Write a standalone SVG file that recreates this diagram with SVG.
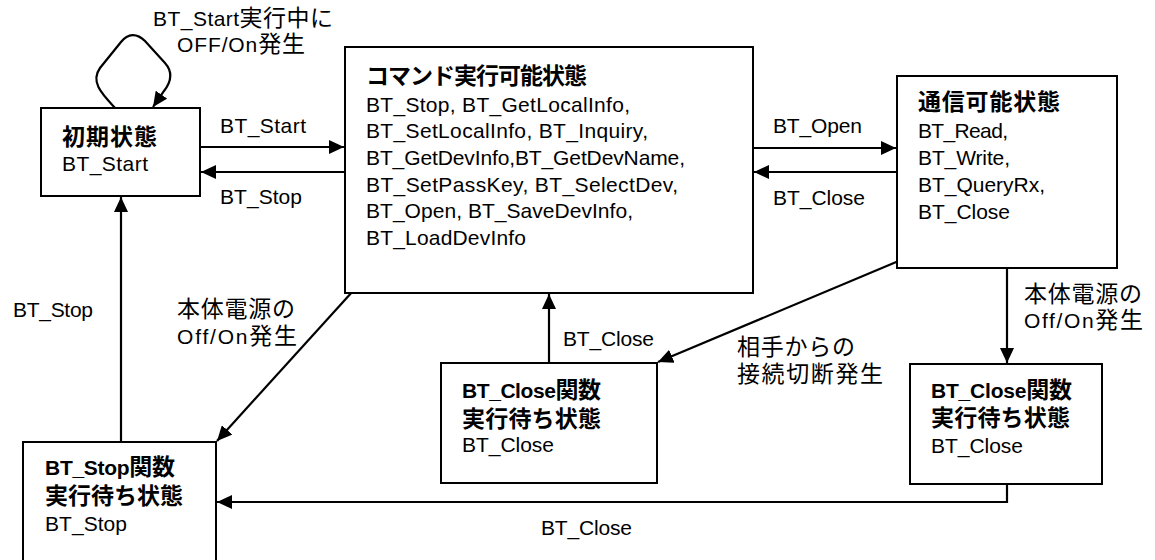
<svg xmlns="http://www.w3.org/2000/svg" width="1155" height="560" viewBox="0 0 1155 560">
<style>
text{font-family:"Liberation Sans","Noto Sans CJK JP",sans-serif;font-size:21px;fill:#000}
.b{font-weight:bold}
.j{font-size:23px}
.box{fill:#fff;stroke:#000;stroke-width:2}
.c{fill:none;stroke:#000;stroke-width:2.2}
</style>
<defs>
<marker id="ah" markerUnits="userSpaceOnUse" markerWidth="16" markerHeight="14" refX="15" refY="7" orient="auto">
<path d="M0,0 L15,7 L0,14 z" fill="#000"/>
</marker>
</defs>
<rect width="1155" height="560" fill="#fff"/>
<g id="connectors">
<path class="c" d="M115,108 C102,94 90,82 100,68 L121,42 C128,33 137,33 145,41 L165,63 C173,72 171,82 164,91 L153,107" marker-end="url(#ah)"/>
<line class="c" x1="200" y1="147" x2="344" y2="147" marker-end="url(#ah)"/>
<line class="c" x1="345" y1="172" x2="201" y2="172" marker-end="url(#ah)"/>
<line class="c" x1="753" y1="148" x2="896" y2="148" marker-end="url(#ah)"/>
<line class="c" x1="897" y1="172" x2="754" y2="172" marker-end="url(#ah)"/>
<line class="c" x1="121" y1="442" x2="121" y2="197" marker-end="url(#ah)"/>
<line class="c" x1="353" y1="291" x2="217" y2="441" marker-end="url(#ah)"/>
<line class="c" x1="549" y1="363" x2="549" y2="294" marker-end="url(#ah)"/>
<line class="c" x1="901" y1="260" x2="658" y2="362" marker-end="url(#ah)"/>
<line class="c" x1="1007" y1="268" x2="1007" y2="363" marker-end="url(#ah)"/>
<polyline class="c" points="1007,484 1007,502 217,502" marker-end="url(#ah)"/>
<text x="153" y="26" textLength="180"><tspan>BT_Start</tspan><tspan class="j">実行中に</tspan></text>
<text x="177" y="52" textLength="128"><tspan>OFF/On</tspan><tspan class="j">発生</tspan></text>
<text x="220" y="133" textLength="86">BT_Start</text>
<text x="220" y="204" textLength="82">BT_Stop</text>
<text x="773" y="133" textLength="89">BT_Open</text>
<text x="773" y="205" textLength="92">BT_Close</text>
<text x="13" y="317" textLength="80">BT_Stop</text>
<text x="177" y="317" class="j" textLength="118">本体電源の</text>
<text x="177" y="344" textLength="120"><tspan>Off/On</tspan><tspan class="j">発生</tspan></text>
<text x="563" y="346" textLength="91">BT_Close</text>
<text x="737" y="355" class="j" textLength="118">相手からの</text>
<text x="737" y="382" class="j" textLength="146">接続切断発生</text>
<text x="1024" y="302" class="j" textLength="118">本体電源の</text>
<text x="1024" y="328" textLength="119"><tspan>Off/On</tspan><tspan class="j">発生</tspan></text>
<text x="541" y="535" textLength="91">BT_Close</text>
</g>
<g id="node-initial">
<rect class="box" x="41" y="108" width="159" height="88"/>
<text x="62" y="145" class="b j" textLength="95">初期状態</text>
<text x="62" y="171" textLength="86">BT_Start</text>
</g>
<g id="node-command">
<rect class="box" x="345" y="47" width="408" height="246"/>
<text x="366" y="84" class="b j" textLength="221">コマンド実行可能状態</text>
<text x="366" y="112" textLength="264">BT_Stop, BT_GetLocalInfo,</text>
<text x="366" y="138" textLength="282">BT_SetLocalInfo, BT_Inquiry,</text>
<text x="366" y="165" textLength="319">BT_GetDevInfo,BT_GetDevName,</text>
<text x="366" y="192" textLength="312">BT_SetPassKey, BT_SelectDev,</text>
<text x="366" y="218" textLength="267">BT_Open, BT_SaveDevInfo,</text>
<text x="366" y="245" textLength="160">BT_LoadDevInfo</text>
</g>
<g id="node-comm">
<rect class="box" x="897" y="76" width="220" height="192"/>
<text x="918" y="110" class="b j" textLength="142">通信可能状態</text>
<text x="918" y="138" textLength="90">BT_Read,</text>
<text x="918" y="165" textLength="92">BT_Write,</text>
<text x="918" y="192" textLength="127">BT_QueryRx,</text>
<text x="918" y="219" textLength="92">BT_Close</text>
</g>
<g id="node-closewait-mid">
<rect class="box" x="441" y="363" width="216" height="120"/>
<text x="462" y="398" class="b" textLength="139"><tspan>BT_Close</tspan><tspan class="j">関数</tspan></text>
<text x="462" y="427" class="b j" textLength="139">実行待ち状態</text>
<text x="462" y="452" textLength="92">BT_Close</text>
</g>
<g id="node-closewait-right">
<rect class="box" x="910" y="364" width="192" height="120"/>
<text x="931" y="398" class="b" textLength="141"><tspan>BT_Close</tspan><tspan class="j">関数</tspan></text>
<text x="931" y="426" class="b j" textLength="139">実行待ち状態</text>
<text x="931" y="453" textLength="92">BT_Close</text>
</g>
<g id="node-stopwait">
<rect class="box" x="23" y="442" width="193" height="130"/>
<text x="45" y="475" class="b" textLength="130"><tspan>BT_Stop</tspan><tspan class="j">関数</tspan></text>
<text x="45" y="504" class="b j" textLength="138">実行待ち状態</text>
<text x="45" y="531" textLength="82">BT_Stop</text>
</g>
</svg>
